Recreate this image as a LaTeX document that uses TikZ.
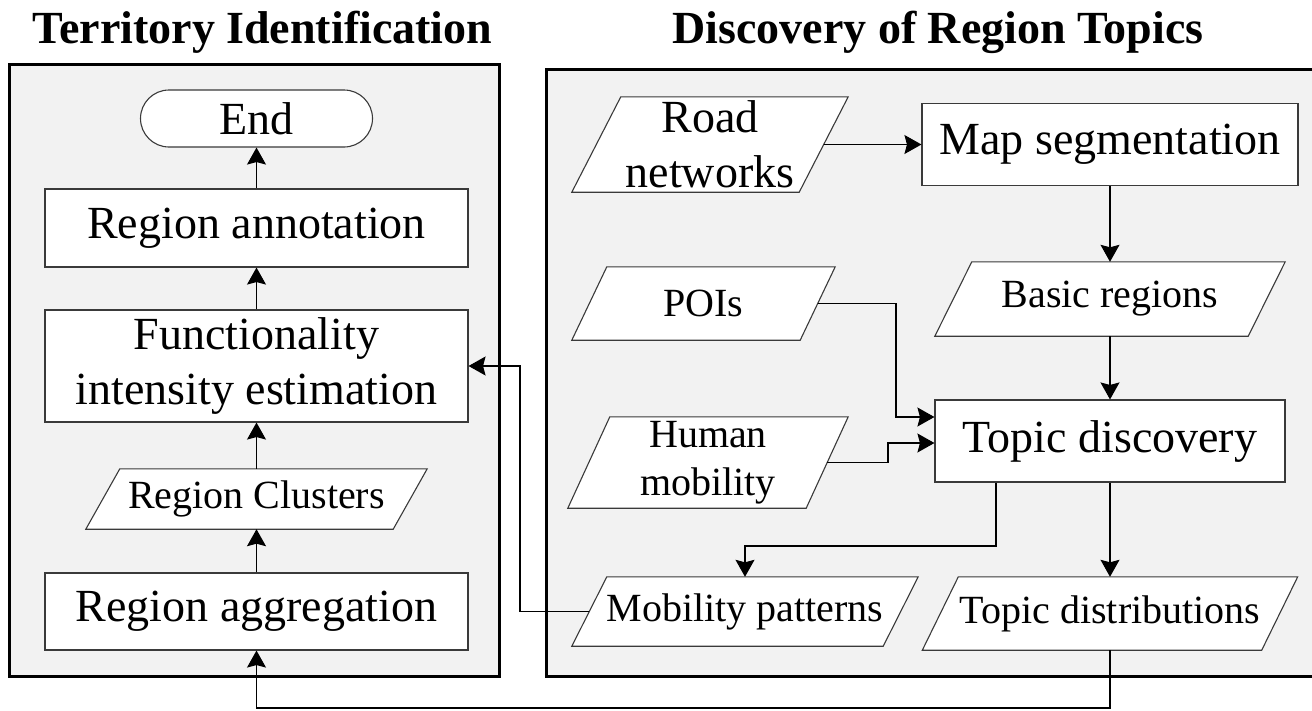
\documentclass[tikz,border=0pt]{standalone}
\usepackage{fontspec}
\setmainfont{Liberation Serif}
\usetikzlibrary{arrows.meta}
\definecolor{panelgray}{HTML}{F2F2F2}
\definecolor{boxline}{HTML}{3A3A3A}
\pgfdeclarelayer{back}
\pgfdeclarelayer{mid}
\pgfsetlayers{back,mid,main}
% parallelogram outline behind a named (invisible) rectangle node; #2 = half of the slant
\newcommand\paral[2]{%
  \begin{pgfonlayer}{mid}
    \draw[paraline] ([xshift=#2]#1.north west) -- ([xshift=#2]#1.north east)
      -- ([xshift=-#2]#1.south east) -- ([xshift=-#2]#1.south west) -- cycle;
  \end{pgfonlayer}}
\begin{document}
\begin{tikzpicture}[x=1pt,y=-1pt,
  panel/.style={draw=black,line width=3pt,fill=panelgray},
  boxnode/.style={rectangle,draw=boxline,line width=1.1pt,fill=white,inner sep=0pt,align=center},
  paranode/.style={rectangle,inner sep=0pt,align=center},
  paraline/.style={draw=boxline,line width=1.1pt,fill=white,line join=miter},
  bigtext/.style={font=\fontsize{46}{55}\selectfont},
  smalltext/.style={font=\fontsize{40}{48}\selectfont},
  arr/.style={-{Stealth[length=17pt,width=19pt,inset=2.5pt]},line width=1.1pt,draw=black},
  titletext/.style={font=\bfseries\fontsize{46}{55}\selectfont,anchor=base,inner sep=0pt}
]
\useasboundingbox (0,0) rectangle (1312,710);
\begin{pgfonlayer}{back}
\fill[white] (0,0) rectangle (1312,710);
\draw[panel] (9,64) rectangle (499,676);
\draw[panel] (546,69) rectangle (1318,676);
\end{pgfonlayer}

% titles
\node[titletext] (t1) at (262.5,43) {Territory Identification};
\node[titletext] (t2) at (938,43) {Discovery of Region Topics};

% left column
\node[boxnode,bigtext,rounded corners=28.5pt,minimum width=232pt,minimum height=57pt] (endn) at (256.5,118.5) {End};
\node[boxnode,bigtext,minimum width=423pt,minimum height=78pt] (rann) at (256.5,228) {Region annotation};
\node[boxnode,bigtext,minimum width=423pt,minimum height=112pt] (func) at (256.5,366) {Functionality\\intensity estimation};
\node[paranode,smalltext,minimum width=307pt,minimum height=60pt] (rclus) at (256.5,499) {Region Clusters};
\paral{rclus}{17pt}
\node[boxnode,bigtext,minimum width=423pt,minimum height=77pt] (ragg) at (256.5,611.5) {Region aggregation};

% right side
\node[paranode,bigtext,minimum width=227pt,minimum height=95pt] (roads) at (710,144.5) {Road\\networks};
\paral{roads}{24.5pt}
\node[boxnode,bigtext,minimum width=376pt,minimum height=82pt] (mapseg) at (1110,144.5) {Map segmentation};
\node[paranode,smalltext,minimum width=228pt,minimum height=73pt] (pois) at (703.5,303.5) {POIs};
\paral{pois}{17.5pt}
\node[paranode,smalltext,minimum width=313pt,minimum height=74pt] (basic) at (1110,299) {Basic regions};
\paral{basic}{18.5pt}
\node[paranode,smalltext,minimum width=238pt,minimum height=91pt] (human) at (708,462.5) {Human\\mobility};
\paral{human}{21pt}
\node[boxnode,bigtext,minimum width=350pt,minimum height=82pt] (topicd) at (1110,441) {Topic discovery};
\node[paranode,smalltext,minimum width=311pt,minimum height=69pt] (mobp) at (745,611.5) {Mobility patterns};
\paral{mobp}{17.5pt}
\node[paranode,smalltext,minimum width=339pt,minimum height=73pt] (tdist) at (1110,613.5) {Topic distributions};
\paral{tdist}{18pt}

% junction coordinates
\coordinate (j1) at (896,417);
\coordinate (j2) at (888,443);
\coordinate (j4) at (996,546);
\coordinate (j5) at (520,611.5);
\coordinate (j6) at (1110,708);

% left chain
\draw[arr] (ragg.north) -- (rclus.south);
\draw[arr] (rclus.north) -- (func.south);
\draw[arr] (func.north) -- (rann.south);
\draw[arr] (rann.north) -- (endn.south);

% right connectors
\draw[arr] (roads.east) -- (mapseg.west);
\draw[arr] (mapseg.south) -- (basic.north);
\draw[arr] (basic.south) -- (topicd.north);
\draw[arr] (pois.east) -| (j1) -- (j1 -| topicd.west);
\draw[arr] (human.east) -| (j2) -- (j2 -| topicd.west);
\draw[arr] (topicd.south -| j4) -- (j4) -| (mobp.north);
\draw[arr] (topicd.south) -- (tdist.north);
\draw[arr] (mobp.west) -- (j5) |- (func.east);
\draw[arr] (tdist.south) -- (j6) -| (ragg.south);
\end{tikzpicture}
\end{document}
